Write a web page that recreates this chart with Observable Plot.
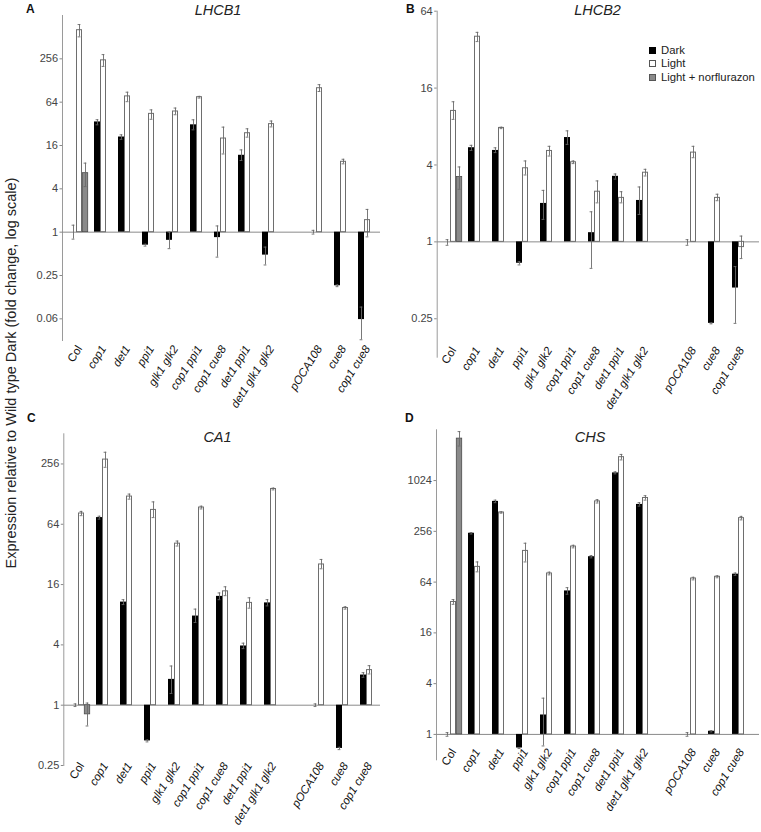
<!DOCTYPE html>
<html><head><meta charset="utf-8">
<script src="https://cdn.jsdelivr.net/npm/d3@7"></script>
<script src="https://cdn.jsdelivr.net/npm/@observablehq/plot@0.6"></script>
<style>
body{margin:0;background:#fff;font-family:"Liberation Sans",Arial,sans-serif;}
#root{position:relative;width:761px;height:832px;overflow:hidden;background:#fff;}
.panel{position:absolute;}
.letter{position:absolute;font-weight:bold;font-size:12px;line-height:12px;color:#111;}
.title{position:absolute;font-style:italic;font-size:14.5px;line-height:14px;color:#222;transform:translateX(-50%);white-space:nowrap;}
.ylab{position:absolute;font-size:14.5px;line-height:15px;color:#222;white-space:nowrap;transform:translate(-50%,-50%) rotate(-90deg);}
.legend{position:absolute;font-size:11.3px;line-height:13.3px;color:#222;width:120px;}
.legend div{display:flex;align-items:center;white-space:nowrap;}
.legend span.sw{display:inline-block;width:7px;height:7px;margin-right:5px;box-sizing:border-box;}
</style></head><body><div id="root"></div>
<script>
// ---------- data ----------
const genotypes = ["Col","cop1","det1","ppi1","glk1 glk2","cop1 ppi1","cop1 cue8","det1 ppi1","det1 glk1 glk2","pOCA108","cue8","cop1 cue8"];
const series = ["Dark","Light","Light + norflurazon"];
// each entry: [value, errorLow, errorHigh]
const lhcb1Dark  = [[1,0.8,1.25],[34,31,36.5],[21,19.5,22.5],[0.66,0.64,0.68],[0.77,0.59,1.0],[31,26.4,36.4],[0.84,0.45,1.22],[11.7,9.9,13.9],[0.48,0.35,0.62],[1,0.94,1.06],[0.18,0.175,0.185],[0.061,0.032,0.091]];
const lhcb1Light = [[640,517,767],[244,201,293],[77,65,88],[44,37,50],[47.5,42.8,53],[75,73,77],[20,12.2,28.8],[23.7,20.9,27.3],[31.7,29,35],[100,90,112],[9.5,8.9,10.3],[1.47,0.86,2.07]];
const lhcb1Norf  = [6.6,4.3,9.1];

const lhcb2Dark  = [[1,0.94,1.04],[5.46,5.2,5.7],[5.2,5.0,5.45],[0.68,0.66,0.7],[2.0,1.5,2.53],[6.56,5.8,7.4],[1.18,0.62,1.72],[3.26,3.1,3.4],[2.11,1.64,2.69],[1,0.94,1.04],[0.23,0.228,0.232],[0.435,0.23,0.64]];
const lhcb2Light = [[10.6,9.1,12.5],[40.4,37,43.7],[7.8,7.7,7.9],[3.77,3.34,4.3],[5.15,4.7,5.6],[4.2,4.1,4.3],[2.47,2.02,3.0],[2.21,2.02,2.47],[3.48,3.28,3.7],[5.0,4.56,5.6],[2.21,2.1,2.36],[0.91,0.74,1.11]];
const lhcb2Norf  = [3.22,2.58,3.86];

const ca1Dark  = [[1,0.97,1.03],[74.6,72,77],[10.7,10.1,11.3],[0.44,0.43,0.45],[1.81,1.31,2.46],[7.76,6.7,9.1],[12.2,11.3,13.2],[3.9,3.67,4.16],[10.5,9.8,11.3],[1,0.97,1.03],[0.37,0.36,0.38],[2.0,1.9,2.11]];
const ca1Light = [[82,78,86],[283,237,335],[121,114,128],[89,74.6,107],[41,38.8,43.5],[94,91,97],[13.7,12.4,15.2],[10.5,9.3,11.8],[144,141,147],[25.4,23,28.5],[9.33,9.1,9.6],[2.24,2.05,2.48]];
const ca1Norf  = [0.81,0.62,1.05];

const chsDark  = [[1,0.95,1.05],[243,238,248],[580,560,600],[0.69,0.68,0.7],[1.7,0.73,2.69],[50.3,46,55],[128,124,132],[1262,1230,1300],[534,510,560],[1,0.95,1.05],[1.09,1.07,1.11],[79.5,77,82]];
const chsLight = [[37.2,34.9,39.7],[97,84.7,111],[428,420,436],[150,111,185],[81,78,84],[169,163,175],[580,555,608],[1940,1800,2090],[636,600,677],[70.6,68,73],[74,72,76],[367,350,385]];
const chsNorf  = [3220,2630,3900];

const ticksA = [0.0625,0.25,1,4,16,64,256];
const ticksB = [0.25,1,4,16,64];
const ticksC = [0.25,1,4,16,64,256];
const ticksD = [1,4,16,64,256,1024];

const genes = ["LHCB1","LHCB2","CA1","CHS"];
const letters = ["A","B","C","D"];
const yLabel = "Expression relative to Wild type Dark (fold change, log scale)";

// ---------- layout ----------
const GAP_AFTER = 8; // an empty slot after "det1 glk1 glk2"
const slotOf = i => i > GAP_AFTER ? i + 1 : i;
const subDomain = d3.range(13).flatMap(s => [0,1,2,3].map(k => `${s}-${k}`));
const labelFor = key => {
  const [s,k] = key.split("-").map(Number);
  if (k !== 1) return "";
  if (s === GAP_AFTER + 1) return "";
  const i = s > GAP_AFTER ? s - 1 : s;
  return genotypes[i];
};
const fmt = d => d === 0.0625 ? "0.06" : String(d);

function rowsFrom(arr, k) {
  return arr.map(([v,lo,hi], i) => ({key: `${slotOf(i)}-${k}`, v, lo, hi}));
}

function panel(o) {
  const dark = rowsFrom(o.dark, 0);
  const light = rowsFrom(o.light, 1);
  const norf = [{key: "0-2", v: o.norf[0], lo: o.norf[1], hi: o.norf[2]}];
  const all = [...dark, ...light, ...norf];
  const errStroke = "#6a6a6a";
  const svg = Plot.plot({
    width: o.width, height: o.height,
    marginLeft: o.ml, marginTop: o.mt, marginBottom: o.mb, marginRight: o.mr,
    style: "background:transparent;overflow:visible;color:#444;font-family:'Liberation Sans',Arial,sans-serif;font-size:11px;",
    x: {type: "band", domain: subDomain, range: [o.x0, o.x0 + 52 * o.w], padding: 0},
    y: {type: "log", domain: o.ydom},
    marks: [
      Plot.frame({anchor: "left", stroke: "#9a9a9a", strokeWidth: 1}),
      Plot.ruleY([1], {stroke: "#8a8a8a", strokeWidth: 1}),
      Plot.barY(dark, {x: "key", y1: () => 1, y2: "v", fill: "#000"}),
      Plot.barY(light, {x: "key", y1: () => 1, y2: "v", fill: "#fff", stroke: "#6e6e6e", strokeWidth: 1, insetLeft: 0.5, insetRight: 0.5}),
      Plot.barY(norf, {x: "key", y1: () => 1, y2: "v", fill: "#8a8a8a", stroke: "#4a4a4a", strokeWidth: 0.8, insetLeft: 0.3, insetRight: 0.3}),
      Plot.ruleX(all, {x: "key", y1: "lo", y2: "hi", stroke: errStroke, strokeWidth: 0.9}),
      Plot.tickY(all, {x: "key", y: "lo", stroke: errStroke, strokeWidth: 0.9, insetLeft: 1.6, insetRight: 1.6}),
      Plot.tickY(all, {x: "key", y: "hi", stroke: errStroke, strokeWidth: 0.9, insetLeft: 1.6, insetRight: 1.6}),
      Plot.axisY(o.ticks, {text: d => fmt(d), tickSize: 2.5, tickPadding: 2, stroke: "#888", fill: "#444", fontSize: 11, label: null}),
      Plot.axisX({tickSize: 0, tickPadding: 0, dy: o.ldy, dx: o.ldx, tickRotate: -58, tickFormat: labelFor, fontSize: 11.5, fontStyle: "italic", fill: "#111", label: null})
    ]
  });
  svg.classList.add("panel");
  svg.style.left = o.left + "px";
  svg.style.top = o.top + "px";
  svg.style.position = "absolute";
  d3.select(svg).selectAll("text").filter(function(){ return this.textContent === "Col"; }).attr("font-style", "normal");
  return svg;
}

const root = document.getElementById("root");
const cfgs = [
  {dark: lhcb1Dark, light: lhcb1Light, norf: lhcb1Norf, ydom: [1/32, 1024], ticks: ticksA,
   left: 0, top: 0, width: 380, height: 425, ml: 62, mt: 15, mb: 85, mr: 0, x0: 66.6, w: 6.146, ldy: 6, ldx: 0},
  {dark: lhcb2Dark, light: lhcb2Light, norf: lhcb2Norf, ydom: [1/8, 64], ticks: ticksB,
   left: 380, top: 0, width: 381, height: 425, ml: 56.7, mt: 10.7, mb: 68.3, mr: 2, x0: 58.8, w: 6.195, ldy: -9, ldx: 0},
  {dark: ca1Dark, light: ca1Light, norf: ca1Norf, ydom: [0.25, 512], ticks: ticksC,
   left: 0, top: 400, width: 380, height: 432, ml: 63.3, mt: 33.3, mb: 67, mr: 0, x0: 66.2, w: 6.22, ldy: -2, ldx: 0},
  {dark: chsDark, light: chsLight, norf: chsNorf, ydom: [0.5, 4096], ticks: ticksD,
   left: 380, top: 400, width: 381, height: 432, ml: 56, mt: 29.3, mb: 72.7, mr: 2, x0: 58.7, w: 6.22, ldy: -10, ldx: 0}
];
cfgs.forEach(c => root.appendChild(panel(c)));

// titles, letters, y label, legend
const titlePos = [[218, 3], [597.5, 3], [217.5, 429.5], [590, 429.5]];
const letterPos = [[26, 3], [406, 3], [27, 412], [405, 412]];
genes.forEach((g, i) => {
  const t = document.createElement("div");
  t.className = "title"; t.textContent = g;
  t.style.left = titlePos[i][0] + "px"; t.style.top = titlePos[i][1] + "px";
  root.appendChild(t);
  const l = document.createElement("div");
  l.className = "letter"; l.textContent = letters[i];
  l.style.left = letterPos[i][0] + "px"; l.style.top = letterPos[i][1] + "px";
  root.appendChild(l);
});
const yl = document.createElement("div");
yl.className = "ylab"; yl.textContent = yLabel;
yl.style.left = "11px"; yl.style.top = "373px";
root.appendChild(yl);

const legendFill = ["#000", "#fff", "#8a8a8a"];
const legendStroke = ["#000", "#555", "#555"];
const lg = document.createElement("div");
lg.className = "legend"; lg.style.left = "649px"; lg.style.top = "44px";
series.forEach((s, i) => {
  const row = document.createElement("div");
  const sw = document.createElement("span");
  sw.className = "sw"; sw.style.background = legendFill[i]; sw.style.border = "1px solid " + legendStroke[i];
  row.appendChild(sw);
  row.appendChild(document.createTextNode(s));
  lg.appendChild(row);
});
root.appendChild(lg);
</script></body></html>
